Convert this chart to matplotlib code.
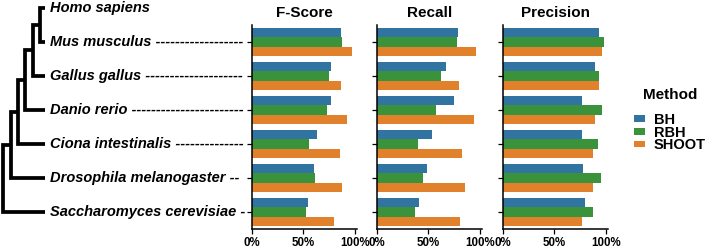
import numpy as np
import matplotlib
matplotlib.use('Agg')
import matplotlib.pyplot as plt

plt.rcParams['font.family'] = ['Liberation Sans', 'DejaVu Sans']

# species in tree order (top to bottom); bars start at the second one
tree_labels = ['Homo sapiens',
               'Mus musculus ' + '-' * 18,
               'Gallus gallus ' + '-' * 20,
               'Danio rerio ' + '-' * 23,
               'Ciona intestinalis ' + '-' * 14,
               'Drosophila melanogaster ' + '-' * 2,
               'Saccharomyces cerevisiae ' + '-' * 1]

methods = ['BH', 'RBH', 'SHOOT']
colors = ['#3274A1', '#3A923A', '#E1812C']
panels = ['F-Score', 'Recall', 'Precision']

# rows: Mus, Gallus, Danio, Ciona, Drosophila, Saccharomyces
fscore_bh = [0.86, 0.77, 0.763, 0.636, 0.604, 0.542]
fscore_rbh = [0.873, 0.75, 0.724, 0.558, 0.61, 0.523]
fscore_shoot = [0.971, 0.864, 0.925, 0.854, 0.873, 0.795]

recall_bh = [0.787, 0.668, 0.752, 0.535, 0.487, 0.406]
recall_rbh = [0.777, 0.623, 0.574, 0.397, 0.445, 0.371]
recall_shoot = [0.965, 0.797, 0.945, 0.823, 0.858, 0.81]

precision_bh = [0.931, 0.898, 0.767, 0.77, 0.78, 0.797]
precision_rbh = [0.98, 0.928, 0.957, 0.918, 0.948, 0.879]
precision_shoot = [0.957, 0.928, 0.892, 0.875, 0.879, 0.77]

data = {
    'F-Score': [fscore_bh, fscore_rbh, fscore_shoot],
    'Recall': [recall_bh, recall_rbh, recall_shoot],
    'Precision': [precision_bh, precision_rbh, precision_shoot],
}

W, H = 707, 249
fig = plt.figure(figsize=(W / 100, H / 100), dpi=100)

ax_top, ax_bot = 25, 229  # pixel rows of the bar axes
n_rows = len(tree_labels) - 1
rows = np.arange(n_rows)

# --- bar panels ---
lefts = [252, 377, 503]
width_px = 105
bar_h = 0.8 / 3
for k, name in enumerate(panels):
    ax = fig.add_axes([lefts[k] / W, (H - ax_bot) / H, width_px / W, (ax_bot - ax_top) / H])
    for m, vals in enumerate(data[name]):
        ax.barh(rows + (m - 1) * bar_h, vals, height=bar_h, color=colors[m],
                label=methods[m])
    ax.set_ylim(n_rows - 0.5, -0.5)
    ax.set_xlim(0, 1.02)
    ax.set_xticks([0, 0.5, 1])
    ax.set_xticklabels(['0%', '50%', '100%'], fontsize=8.3, fontweight='bold')
    ax.set_yticks(rows)
    ax.set_yticklabels([])
    ax.tick_params(length=3.5, width=0.9, pad=2)
    for s in ['top', 'right']:
        ax.spines[s].set_visible(False)
    for s in ['left', 'bottom']:
        ax.spines[s].set_linewidth(1.1)
    ax.set_title(name, fontsize=11, fontweight='bold', pad=6)
    if k == 0:
        handles, labels = ax.get_legend_handles_labels()

leg = fig.legend(handles, labels, title='Method', loc='upper left',
                 bbox_to_anchor=(634 / W, 1 - 88 / H), frameon=False,
                 borderpad=0, borderaxespad=0, labelspacing=-0.1,
                 handlelength=0.75, handleheight=0.35, handletextpad=0.6,
                 prop={'size': 10.5, 'weight': 'bold'},
                 title_fontproperties={'size': 11, 'weight': 'bold'})
leg._legend_box.sep = 8  # gap between title and entries

# --- tree ---
tip_depth = 5.6
tree_ax = fig.add_axes([3.3 / W, (H - ax_bot) / H, 41.2 / W, (ax_bot - ax_top) / H])
tree_ax.set_xlim(0, tip_depth)
tree_ax.set_ylim(n_rows - 0.5, -0.5)
tree_ax.axis('off')

child_x, child_y = tip_depth, -1
for d in range(n_rows - 1, -1, -1):
    r = n_rows - 1 - d
    tree_ax.plot([child_x, d, d, tip_depth], [child_y, child_y, r, r], color='black',
                 lw=2.7, solid_joinstyle='miter', solid_capstyle='butt', clip_on=False)
    child_x, child_y = d, (child_y + r) / 2

for i, lab in enumerate(tree_labels):
    tree_ax.annotate(lab, (tip_depth, i - 1), xytext=(4, 0), textcoords='offset points',
                     ha='left', va='center', fontsize=10.5, fontweight='bold',
                     fontstyle='italic', annotation_clip=False)

fig.savefig('out.png', dpi=100)
